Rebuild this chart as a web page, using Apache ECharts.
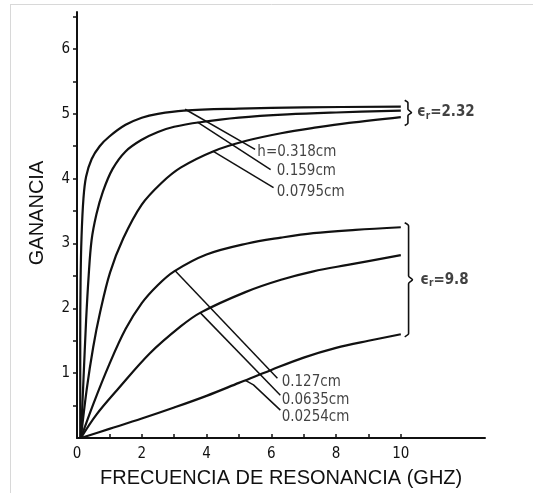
<!DOCTYPE html>
<html>
<head>
<meta charset="utf-8">
<script src="https://cdn.jsdelivr.net/npm/echarts@6/dist/echarts.min.js"></script>
<style>
html,body{margin:0;padding:0;background:#fff;}
#c{width:533px;height:493px;}
</style>
</head>
<body>
<div id="c"></div>
<script>
// ---- data (GHz, ganancia) ----
const xTickLabels = [0, 2, 4, 6, 8, 10];
const xTicks = [0, 1, 2, 3, 4, 5, 6, 7, 8, 9, 10];
const yTickLabels = [1, 2, 3, 4, 5, 6];
const yTicks = [0.5, 1, 1.5, 2, 2.5, 3, 3.5, 4, 4.5, 5, 5.5, 6, 6.5];

// er = 2.32
const h0318 = [[0.1,0],[0.1,1.5],[0.11,2.4],[0.14,3.1],[0.2,3.7],[0.28,4.03],[0.45,4.3],[0.7,4.5],[1.0,4.65],[1.5,4.83],[2.0,4.94],[2.5,5.0],[3.3,5.05],[5,5.08],[7,5.1],[10,5.11]];
const h0159 = [[0.12,0],[0.2,0.9],[0.28,1.8],[0.36,2.5],[0.45,3.05],[0.6,3.45],[0.8,3.8],[1.1,4.15],[1.5,4.42],[2.0,4.6],[2.5,4.72],[3.0,4.8],[3.8,4.87],[5,4.94],[6.5,4.99],[8,5.02],[10,5.05]];
const h0795 = [[0.12,0],[0.3,0.75],[0.5,1.4],[0.71,1.93],[1.02,2.55],[1.43,3.08],[2.0,3.6],[2.6,3.93],[3.2,4.17],[4.2,4.42],[5.2,4.58],[6.3,4.7],[7.4,4.79],[8.4,4.86],[10,4.95]];
// er = 9.8
const h0127 = [[0.12,0],[0.5,0.52],[1.0,1.14],[1.5,1.68],[2.0,2.08],[2.5,2.36],[3.0,2.57],[4.0,2.83],[5.26,3.0],[6.3,3.09],[7.3,3.16],[8.6,3.21],[10,3.25]];
const h0635 = [[0.12,0],[0.6,0.36],[1.24,0.74],[2.26,1.31],[3.2,1.72],[3.8,1.93],[5.2,2.25],[6.3,2.44],[7.3,2.57],[8.36,2.67],[10,2.82]];
const h0254 = [[0.12,0],[1,0.14],[2,0.3],[3,0.47],[4,0.65],[5,0.85],[6,1.05],[7,1.24],[8,1.39],[9,1.5],[10,1.6]];

// leader lines (from curve to label)
const leader0318 = [[3.34,5.07],[5.5,4.45]];
const leader0159 = [[3.72,4.87],[5.98,4.14]];
const leader0795 = [[4.21,4.42],[6.07,3.86]];
const leader0127 = [[3.03,2.58],[6.19,0.92]];
const leader0635 = [[3.81,1.93],[6.28,0.66]];
const leader0254 = [[5.2,0.89],[5.45,0.82],[6.28,0.43]];

// braces
const brace232 = [[10.12,5.21],[10.22,5.17],[10.22,5.07],[10.33,5.02],[10.22,4.97],[10.22,4.86],[10.12,4.82]];
const brace98 = [[10.12,3.32],[10.24,3.27],[10.24,2.5],[10.36,2.44],[10.24,2.38],[10.24,1.61],[10.12,1.56]];

// labels: [x, y, text]
const curveLabels = [
  [5.57, 4.41, 'h=0.318cm'],
  [6.17, 4.11, '0.159cm'],
  [6.17, 3.79, '0.0795cm'],
  [6.32, 0.86, '0.127cm'],
  [6.32, 0.59, '0.0635cm'],
  [6.32, 0.32, '0.0254cm']
];
const groupLabels = [
  [10.5, 5.02, '2.32'],
  [10.6, 2.44, '9.8']
];

const chart = echarts.init(document.getElementById('c'), null, {renderer: 'canvas'});

const lineStyle = {color: '#111', width: 2.2};
function curve(d) {
  return {type: 'line', data: d, smooth: 0.35, showSymbol: false, symbol: 'none',
          lineStyle: lineStyle, silent: true, z: 3};
}
function leader(d) {
  return {type: 'line', data: d, smooth: false, showSymbol: false, symbol: 'none',
          lineStyle: {color: '#111', width: 1.5}, silent: true, z: 3};
}
function brace(d) {
  return {type: 'line', data: d, smooth: 0.25, showSymbol: false, symbol: 'none',
          lineStyle: {color: '#111', width: 1.6}, silent: true, z: 3};
}

const labelFont = '"DejaVu Sans Condensed", "DejaVu Sans", sans-serif';

const option = {
  animation: false,
  backgroundColor: '#fff',
  grid: {left: 77, right: 48, top: 12, bottom: 55, containLabel: false},
  xAxis: {
    type: 'value', min: 0, max: 12.6,
    axisLine: {show: true, lineStyle: {color: '#111', width: 2}},
    axisTick: {show: true, inside: true, length: 4, customValues: xTicks, lineStyle: {color: '#111', width: 1.5}},
    axisLabel: {show: true, customValues: xTickLabels, margin: 9, color: '#111',
                fontFamily: labelFont, fontSize: 15},
    splitLine: {show: false}
  },
  yAxis: {
    type: 'value', min: 0, max: 6.57,
    axisLine: {show: true, lineStyle: {color: '#111', width: 2}},
    axisTick: {show: true, inside: false, length: 4, customValues: yTicks, lineStyle: {color: '#111', width: 1.5}},
    axisLabel: {show: true, customValues: yTickLabels, margin: 7, color: '#111',
                fontFamily: labelFont, fontSize: 15},
    splitLine: {show: false}
  },
  series: [
    curve(h0318), curve(h0159), curve(h0795),
    curve(h0127), curve(h0635), curve(h0254),
    leader(leader0318), leader(leader0159), leader(leader0795),
    leader(leader0127), leader(leader0635), leader(leader0254),
    brace(brace232), brace(brace98),
    {
      type: 'scatter', data: curveLabels, symbolSize: 0, silent: true, z: 5,
      label: {show: true, position: 'right', distance: 0,
              formatter: p => p.data[2], color: '#111',
              fontFamily: labelFont, fontSize: 15}
    },
    {
      type: 'scatter', data: groupLabels, symbolSize: 0, silent: true, z: 5,
      label: {show: true, position: 'right', distance: 0,
              formatter: p => '{e|ϵ}{s|r}{v|=' + p.data[2] + '}',
              rich: {
                e: {fontFamily: labelFont, fontSize: 15, color: '#111', fontWeight: 'bold'},
                s: {fontFamily: labelFont, fontSize: 10, color: '#111', fontWeight: 'bold', padding: [8, 0, 0, 0]},
                v: {fontFamily: labelFont, fontSize: 15, color: '#111', fontWeight: 'bold'}
              }}
    }
  ],
  graphic: [
    {type: 'line', shape: {x1: 10, y1: 4.5, x2: 533, y2: 4.5}, style: {stroke: '#d8d8d8', lineWidth: 1}, silent: true},
    {type: 'line', shape: {x1: 10.5, y1: 4, x2: 10.5, y2: 493}, style: {stroke: '#d8d8d8', lineWidth: 1}, silent: true},
    {type: 'text', left: 100, top: 468,
     style: {text: 'FRECUENCIA DE RESONANCIA (GHZ)', font: '20px "Liberation Sans", Arial, sans-serif', fill: '#111'}},
    {type: 'text', x: 37, y: 213, rotation: Math.PI / 2,
     style: {text: 'GANANCIA', font: '20px "Liberation Sans", Arial, sans-serif', fill: '#111',
             align: 'center', verticalAlign: 'middle'}}
  ]
};
chart.setOption(option);
</script>
</body>
</html>
